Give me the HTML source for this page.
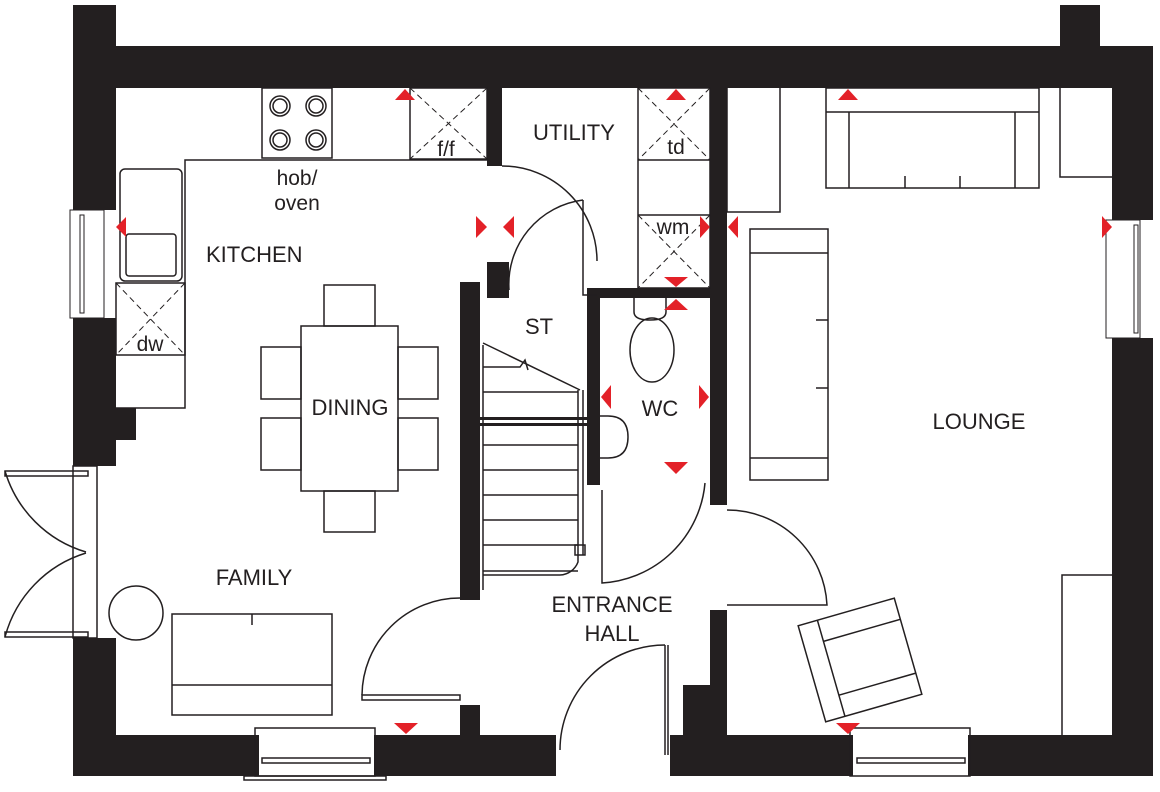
<!DOCTYPE html>
<html><head><meta charset="utf-8"><style>
html,body{margin:0;padding:0;background:#fff;}
svg{display:block;}
text{font-family:"Liberation Sans",Arial,sans-serif;fill:#231f20;}
</style></head><body>
<svg width="1160" height="792" viewBox="0 0 1160 792" xmlns="http://www.w3.org/2000/svg">
<g fill="#231f20">
<rect x="73" y="5" width="43" height="205"/>
<rect x="73" y="318" width="43" height="148"/>
<rect x="73" y="638" width="43" height="138"/>
<rect x="116" y="46" width="1037" height="42"/>
<rect x="1060" y="5" width="40" height="41"/>
<rect x="1112" y="46" width="41" height="174"/>
<rect x="1112" y="338" width="41" height="438"/>
<rect x="73" y="735" width="186" height="41"/>
<rect x="374" y="735" width="182" height="41"/>
<rect x="670" y="735" width="183" height="41"/>
<rect x="968" y="735" width="185" height="41"/>
<rect x="487" y="88" width="15" height="78"/>
<rect x="487" y="262" width="22" height="36"/>
<rect x="460" y="282" width="20" height="318"/>
<rect x="460" y="705" width="20" height="30"/>
<rect x="587" y="288" width="125" height="10"/>
<rect x="587" y="288" width="13" height="197"/>
<rect x="710" y="88" width="17" height="417"/>
<rect x="710" y="610" width="17" height="125"/>
<rect x="683" y="685" width="30" height="50"/>
<rect x="116" y="408" width="20" height="32"/>
<rect x="480" y="417" width="107" height="3"/>
<rect x="480" y="423" width="107" height="3"/>
</g>
<g fill="none" stroke="#231f20" stroke-width="1.5">
<path d="M185 280 V160 H487"/>
<path d="M116 408 H185 V280"/>
<rect x="262" y="88" width="70" height="70"/>
<circle cx="280" cy="106" r="10"/><circle cx="280" cy="106" r="7"/>
<circle cx="316" cy="106" r="10"/><circle cx="316" cy="106" r="7"/>
<circle cx="280" cy="140" r="10"/><circle cx="280" cy="140" r="7"/>
<circle cx="316" cy="140" r="10"/><circle cx="316" cy="140" r="7"/>
<rect x="410" y="88" width="77" height="71"/>
<path d="M410 88 L487 159 M487 88 L410 159" stroke-dasharray="6 4" stroke-width="1"/>
<rect x="120" y="169" width="62" height="112" rx="5"/>
<rect x="126" y="234" width="50" height="42" rx="3"/>
<rect x="116" y="283" width="69" height="72"/>
<path d="M116 283 L185 355 M185 283 L116 355" stroke-dasharray="6 4" stroke-width="1"/>
<rect x="70" y="210" width="34" height="108" stroke-width="1"/>
<rect x="80" y="215" width="4" height="98" stroke-width="1"/>
<rect x="1106" y="220" width="34" height="118" stroke-width="1"/>
<rect x="1134" y="225" width="4" height="108" stroke-width="1"/>
<rect x="255" y="728" width="120" height="48"/>
<rect x="262" y="758" width="108" height="5"/>
<rect x="850" y="728" width="120" height="48"/>
<rect x="857" y="758" width="108" height="5"/>
<rect x="244" y="776" width="142" height="4"/>
<rect x="301" y="326" width="97" height="165"/>
<rect x="324" y="285" width="51" height="41"/>
<rect x="324" y="491" width="51" height="41"/>
<rect x="261" y="347" width="40" height="52"/>
<rect x="261" y="418" width="40" height="52"/>
<rect x="398" y="347" width="40" height="52"/>
<rect x="398" y="418" width="40" height="52"/>
<circle cx="136" cy="613" r="27"/>
<rect x="172" y="614" width="160" height="101"/>
<path d="M172 685 H332 M252 614 V625"/>
<rect x="73" y="466" width="24" height="172"/>
<path d="M5 471 H88 V476 H5 Z M5 632 H88 V637 H5 Z"/>
<path d="M5 471 A120 120 0 0 0 86 552 M5 637 A120 120 0 0 1 86 553"/>
<path d="M502 166 A95 95 0 0 1 597 261"/>
<path d="M583 200 V295 H597"/>
<path d="M509 290 A85 85 0 0 1 583 200" />
<path d="M602 490 V583 A110 110 0 0 0 705 483"/>
<path d="M727 510 A100 100 0 0 1 827 605 H727"/>
<path d="M362 700 V695 H460 V700 Z"/>
<path d="M362 695 A98 98 0 0 1 460 598"/>
<path d="M665 645 V755 M668 645 V755"/>
<path d="M665 645 A105 105 0 0 0 560 750"/>
<path d="M483 343 L580 390 M483 345 V590"/>
<path d="M483 367 H520 L525 360 L528 370 M483 392 H578 M483 445 H578 M483 470 H578 M483 495 H578 M483 520 H578 M483 545 H578 M483 571 H578"/>
<path d="M578 390 V555 M583 390 V555"/>
<path d="M578 555 V562 A20 20 0 0 1 560 575 H483"/>
<rect x="575" y="545" width="10" height="10"/>
<rect x="638" y="88" width="72" height="200"/>
<path d="M638 160 H710 M638 215 H710"/>
<path d="M638 88 L710 160 M710 88 L638 160 M638 215 L710 288 M710 215 L638 288" stroke-dasharray="6 4" stroke-width="1"/>
<path d="M727 88 V212 H780 V88"/>
<path d="M634 298 V312 Q634 320 650 320 Q666 320 666 312 V298"/>
<ellipse cx="652" cy="350" rx="22" ry="32"/>
<path d="M600 416 H608 Q628 416 628 437 Q628 458 608 458 H600"/>
<rect x="826" y="88" width="213" height="100"/>
<path d="M826 112 H1039 M849 112 V188 M1015 112 V188 M905 176 V188 M960 176 V188"/>
<path d="M1060 88 V177 H1112"/>
<rect x="750" y="229" width="78" height="251"/>
<path d="M750 253 H828 M816 320 H828 M816 388 H828 M750 458 H828"/>
<path d="M1062 735 V575 H1112"/>
<g transform="translate(860,660) rotate(-16)">
<rect x="-50" y="-50" width="100" height="100"/>
<path d="M-30 -50 V50 M-30 -28 H50 M-30 28 H50"/>
</g>
</g>
<g fill="#e32128">
<path d="M395 100 L405 89 L415 100 Z"/>
<path d="M838 100 L848 89 L858 100 Z"/>
<path d="M116 227 L126 217 L126 237 Z"/>
<path d="M476 216 L487 227 L476 238 Z"/>
<path d="M514 216 L503 227 L514 238 Z"/>
<path d="M666 100 L676 89 L686 100 Z"/>
<path d="M700 216 L710 227 L700 238 Z"/>
<path d="M738 216 L728 227 L738 238 Z"/>
<path d="M1102 216 L1112 227 L1102 238 Z"/>
<path d="M664 277 L676 287 L688 277 Z"/>
<path d="M664 310 L676 299 L688 310 Z"/>
<path d="M611 385 L601 397 L611 409 Z"/>
<path d="M699 385 L709 397 L699 409 Z"/>
<path d="M664 462 L676 474 L688 462 Z"/>
<path d="M394 723 L406 734 L418 723 Z"/>
<path d="M836 723 L848 734 L860 723 Z"/>
</g>
<g font-size="22">
<text x="533" y="140">UTILITY</text>
<text x="206" y="262">KITCHEN</text>
<text x="350" y="415" text-anchor="middle">DINING</text>
<text x="254" y="585" text-anchor="middle">FAMILY</text>
<text x="979" y="429" text-anchor="middle">LOUNGE</text>
<text x="539" y="334" text-anchor="middle">ST</text>
<text x="660" y="416" text-anchor="middle">WC</text>
<text x="612" y="612" text-anchor="middle">ENTRANCE</text>
<text x="612" y="641" text-anchor="middle">HALL</text>
<text x="297" y="185" text-anchor="middle" font-size="21">hob/</text>
<text x="297" y="210" text-anchor="middle" font-size="21">oven</text>
<text x="446" y="156" text-anchor="middle" font-size="21">f/f</text>
<text x="676" y="154" text-anchor="middle" font-size="21">td</text>
<text x="673" y="234" text-anchor="middle" font-size="21">wm</text>
<text x="150" y="351" text-anchor="middle" font-size="21">dw</text>
</g>
</svg>
</body></html>
